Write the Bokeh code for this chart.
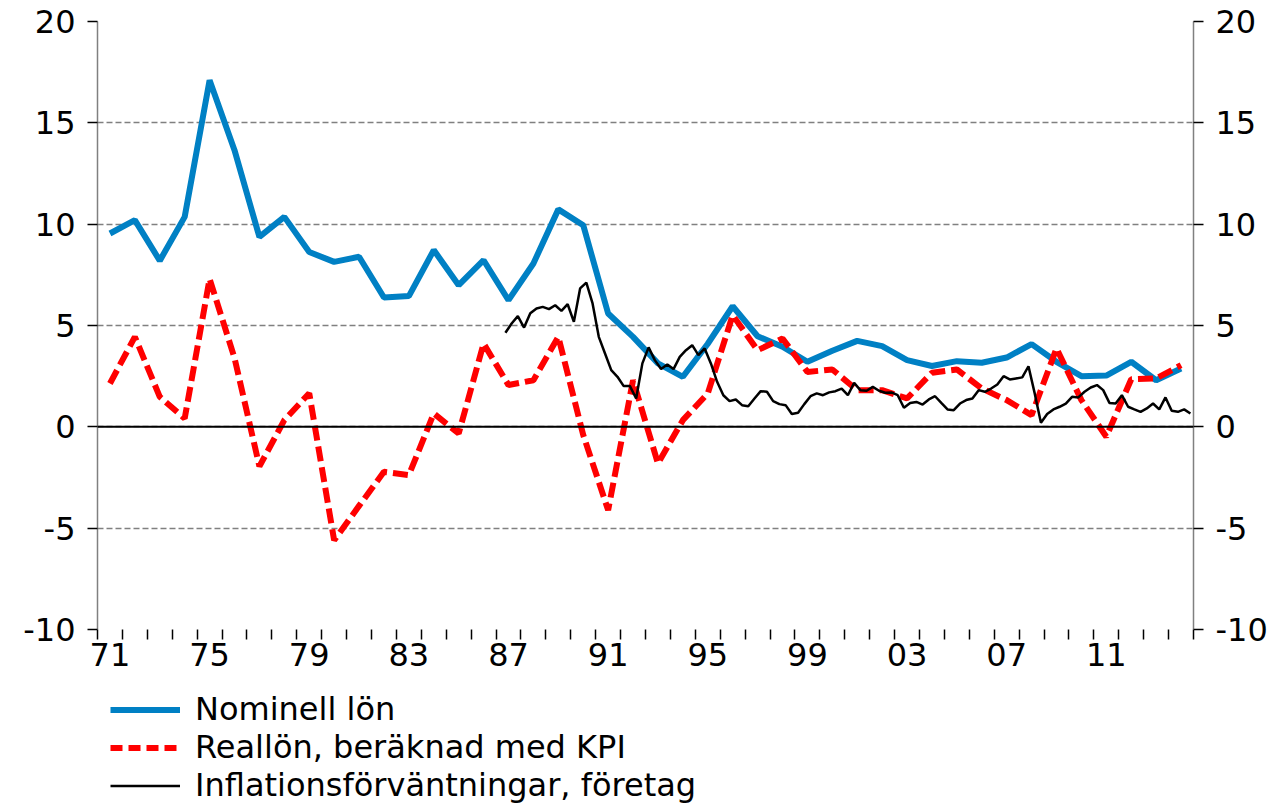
from bokeh.plotting import figure
from bokeh.layouts import column
from bokeh.models import Range1d, LinearAxis, FixedTicker, Span, Legend, LegendItem
from bokeh.embed import file_html
from bokeh.resources import INLINE

# ---- data ----
years = list(range(1971, 2015))
nominell = [9.54, 10.2, 8.2, 10.36, 17.1, 13.65, 9.37, 10.36, 8.63, 8.14,
            8.39, 6.38, 6.45, 8.72, 6.99, 8.22, 6.25, 8.06, 10.73, 9.95,
            5.59, 4.44, 3.13, 2.47, 4.1, 5.95, 4.47, 3.95, 3.21, 3.75,
            4.24, 3.98, 3.29, 3.0, 3.24, 3.16, 3.42, 4.08, 3.21, 2.5,
            2.53, 3.21, 2.3, 2.88]
reallon = [2.14, 4.44, 1.48, 0.41, 7.3, 3.4, -1.95, 0.33, 1.66, -5.6,
           -3.9, -2.22, -2.38, 0.66, -0.33, 4.11, 2.06, 2.3, 4.44, -0.4,
           -4.11, 2.3, -1.81, 0.33, 1.65, 5.51, 3.78, 4.36, 2.71, 2.83,
           1.81, 1.81, 1.4, 2.67, 2.83, 1.89, 1.32, 0.58, 3.87, 1.32,
           -0.49, 2.35, 2.39, 3.04]
# quarterly, 1987 Q2 .. 2014 Q4
infl_first_year = 1987
infl_first_quarter = 2
inflation = [4.64, 5.1, 5.46, 4.9, 5.6, 5.84, 5.92, 5.81, 6.0, 5.72,
             6.05, 5.18, 6.83, 7.12, 6.09, 4.44, 3.62, 2.8, 2.47, 2.01,
             2.01, 1.4, 3.13, 3.92, 3.29, 2.85, 3.08, 2.85,
             3.45, 3.78, 4.03, 3.54, 3.87, 3.13, 2.22, 1.56, 1.27, 1.35,
             1.07, 1.02, 1.4, 1.76, 1.73, 1.27, 1.12, 1.07, 0.63, 0.69,
             1.12, 1.51, 1.65, 1.56, 1.7, 1.76, 1.89, 1.56,
             2.17, 1.81, 1.78, 1.97, 1.78, 1.68, 1.7, 1.56, 0.94, 1.18,
             1.23, 1.1, 1.35, 1.51, 1.18, 0.86, 0.82, 1.15, 1.32, 1.4,
             1.81, 1.73, 1.89, 2.09, 2.5, 2.34, 2.39, 2.44,
             2.99, 1.65, 0.2, 0.63, 0.86, 0.99, 1.15, 1.48, 1.45, 1.73,
             1.94, 2.06, 1.81, 1.18, 1.15, 1.56, 0.99, 0.86, 0.74, 0.91,
             1.15, 0.86, 1.45, 0.79, 0.74, 0.86, 0.66]
label_years = [1971, 1975, 1979, 1983, 1987, 1991, 1995, 1999, 2003, 2007, 2011]
y_ticks = [-10, -5, 0, 5, 10, 15, 20]
labels = ["Nominell lön", "Reallön, beräknad med KPI", "Inflationsförväntningar, företag"]

BLUE = "#0080C4"
RED = "#FF0000"
FONT = "DejaVu Sans"

# positions: annual values at mid-year, quarterly at mid-quarter
x_annual = [y + 0.5 for y in years]
start = infl_first_year + (infl_first_quarter - 1) * 0.25
x_quarter = [start + 0.125 + 0.25 * i for i in range(len(inflation))]

W = 1276
H1 = 692
p = figure(width=W, height=H1, x_range=Range1d(1971, 2015), y_range=Range1d(-10, 20),
           output_backend="svg", toolbar_location=None,
           min_border_left=97, min_border_right=W - 1193, min_border_top=21,
           min_border_bottom=H1 - 629)
p.outline_line_color = None

# x axis
xa = p.xaxis[0]
xa.ticker = FixedTicker(ticks=[y + 0.5 for y in label_years], minor_ticks=list(range(1971, 2016)))
xa.major_label_overrides = {y + 0.5: f"{y % 100:02d}" for y in label_years}
xa.axis_line_color = None
xa.major_tick_out = 0
xa.major_tick_in = 0
xa.minor_tick_out = 10
xa.minor_tick_in = 0
xa.minor_tick_line_color = "black"
xa.minor_tick_line_width = 1.5
xa.major_label_text_font = FONT
xa.major_label_text_font_size = "32px"
xa.major_label_text_color = "black"
xa.major_label_standoff = 3

# y axes
def style_y(ax):
    ax.ticker = FixedTicker(ticks=y_ticks)
    ax.major_label_overrides = {t: str(t) for t in y_ticks}
    ax.axis_line_color = "#808080"
    ax.axis_line_width = 1.5
    ax.major_tick_out = 10
    ax.major_tick_in = 0
    ax.major_tick_line_color = "black"
    ax.major_tick_line_width = 1.5
    ax.minor_tick_line_color = None
    ax.major_label_text_font = FONT
    ax.major_label_text_font_size = "32px"
    ax.major_label_text_color = "black"
    ax.major_label_standoff = 12

style_y(p.yaxis[0])
ra = LinearAxis()
style_y(ra)
p.add_layout(ra, "right")

p.xgrid.grid_line_color = None
p.ygrid.grid_line_color = "#808080"
p.ygrid.grid_line_width = 1.5
p.ygrid.grid_line_dash = "6 3"

p.add_layout(Span(location=0, dimension="width", line_color="black", line_width=2))

p.line(x_annual, nominell, line_color=BLUE, line_width=6)
p.line(x_annual, reallon, line_color=RED, line_width=6, line_dash="15 6")
p.line(x_quarter, inflation, line_color="black", line_width=2.5)

# legend panel below (no axes); legend swatches come from style-only renderers
H2 = 113
q = figure(width=W, height=H2, x_range=Range1d(0, 1), y_range=Range1d(0, 1),
           output_backend="svg", toolbar_location=None,
           x_axis_location=None, y_axis_location=None,
           min_border_left=0, min_border_right=0, min_border_top=0, min_border_bottom=0)
q.grid.visible = False
q.outline_line_color = None
nan = float("nan")
lb = q.line([nan], [nan], line_color=BLUE, line_width=6)
lr = q.line([nan], [nan], line_color=RED, line_width=6, line_dash="12 6")
lk = q.line([nan], [nan], line_color="black", line_width=2.5)
legend = Legend(items=[LegendItem(label=labels[0], renderers=[lb]),
                       LegendItem(label=labels[1], renderers=[lr]),
                       LegendItem(label=labels[2], renderers=[lk])],
                location=(13, 1), orientation="vertical",
                border_line_color=None, background_fill_alpha=0,
                padding=0, margin=0, spacing=0,
                glyph_width=70, glyph_height=37, label_height=37,
                label_standoff=15, label_text_font=FONT,
                label_text_font_size="32px", label_text_color="black")
q.add_layout(legend)

layout = column(p, q, spacing=0)
open("out.html", "w").write(file_html(layout, INLINE))
